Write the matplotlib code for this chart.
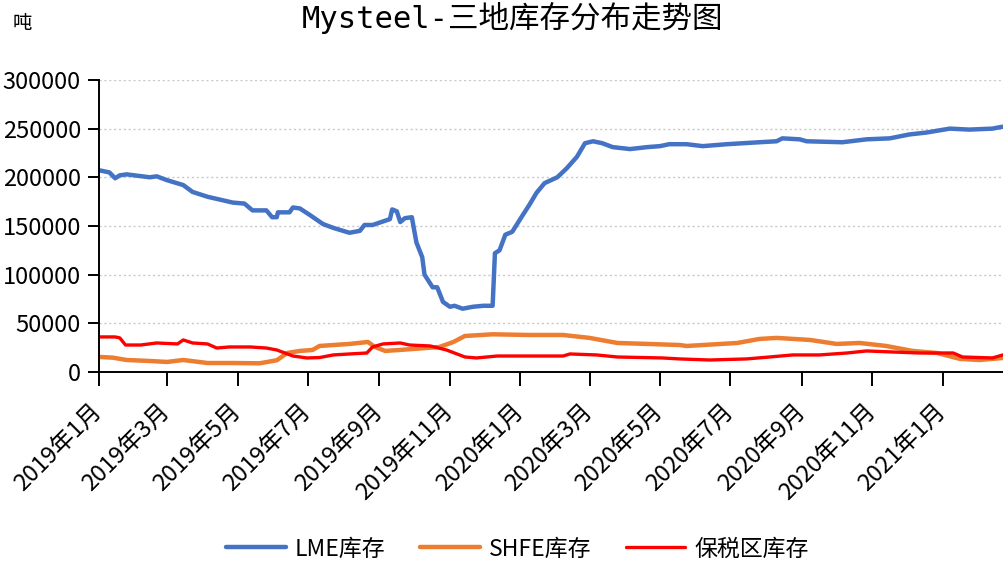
# 三地库存分布走势图 recreation
import pandas as pd
import matplotlib
matplotlib.use('Agg')
import matplotlib.pyplot as plt
import matplotlib.dates as mdates
from matplotlib.ticker import MultipleLocator, FuncFormatter

plt.rcParams['font.family'] = ['Noto Sans CJK SC', 'DejaVu Sans']

# LME inventory (tonnes)
lme_dates = ['2019-01-02', '2019-01-10', '2019-01-15', '2019-01-19', '2019-01-25', '2019-02-14',
             '2019-02-20', '2019-03-01', '2019-03-15', '2019-03-23', '2019-04-05', '2019-04-27',
             '2019-05-07', '2019-05-14', '2019-05-26', '2019-05-31', '2019-06-04', '2019-06-05',
             '2019-06-15', '2019-06-18', '2019-06-24', '2019-07-03', '2019-07-14', '2019-07-23',
             '2019-08-06', '2019-08-15', '2019-08-19', '2019-08-26', '2019-09-10', '2019-09-12',
             '2019-09-16', '2019-09-19', '2019-09-23', '2019-09-29', '2019-10-03', '2019-10-08',
             '2019-10-10', '2019-10-17', '2019-10-21', '2019-10-26', '2019-11-01', '2019-11-05',
             '2019-11-12', '2019-11-21', '2019-11-30', '2019-12-08', '2019-12-10', '2019-12-14',
             '2019-12-19', '2019-12-25', '2020-01-03', '2020-01-09', '2020-01-15', '2020-01-22',
             '2020-02-02', '2020-02-10', '2020-02-19', '2020-02-26', '2020-03-04', '2020-03-12',
             '2020-03-21', '2020-04-05', '2020-04-20', '2020-05-01', '2020-05-09', '2020-05-24',
             '2020-06-07', '2020-06-28', '2020-07-26', '2020-08-10', '2020-08-15', '2020-08-30',
             '2020-09-05', '2020-10-06', '2020-10-27', '2020-11-16', '2020-12-03', '2020-12-18',
             '2021-01-07', '2021-01-24', '2021-02-13', '2021-02-22']
lme_vals = [207000, 205000, 199000, 202000, 203000, 200000,
            201000, 197000, 192000, 185000, 180000, 174000,
            173000, 166000, 166000, 159000, 159000, 164000,
            164000, 169000, 168000, 161000, 152000, 148000,
            143000, 145000, 151000, 151000, 157000, 167000,
            165000, 154000, 158000, 159000, 133000, 118000,
            100000, 87000, 87000, 72000, 67000, 68000,
            65000, 67000, 68000, 68000, 122000, 125000,
            141000, 144000, 161000, 172000, 184000, 194000,
            200000, 209000, 221000, 235000, 237000, 235000,
            231000, 229000, 231000, 232000, 234000, 234000,
            232000, 234000, 236000, 237000, 240000, 239000,
            237000, 236000, 239000, 240000, 244000, 246000,
            250000, 249000, 250000, 252000]

# SHFE inventory
shfe_dates = ['2019-01-02', '2019-01-13', '2019-01-25', '2019-02-14', '2019-03-01', '2019-03-15',
              '2019-04-05', '2019-04-27', '2019-05-20', '2019-06-04', '2019-06-13', '2019-06-24',
              '2019-07-05', '2019-07-11', '2019-07-23', '2019-08-06', '2019-08-22', '2019-08-28',
              '2019-09-06', '2019-09-30', '2019-10-23', '2019-11-04', '2019-11-14', '2019-12-08',
              '2020-01-09', '2020-02-07', '2020-03-01', '2020-03-25', '2020-04-20', '2020-05-18',
              '2020-05-24', '2020-07-07', '2020-07-26', '2020-08-10', '2020-09-08', '2020-10-01',
              '2020-10-21', '2020-11-13', '2020-12-06', '2020-12-27', '2021-01-16', '2021-02-02',
              '2021-02-22']
shfe_vals = [15400, 14700, 12300, 11300, 10300, 12300,
             9200, 9200, 8900, 12000, 19500, 21600,
             22600, 26700, 27700, 28800, 30800, 25700,
             21600, 23600, 25700, 30800, 37000, 38700,
             38000, 38000, 35000, 29800, 28800, 27700,
             26700, 29800, 33900, 35000, 32900, 28800,
             29800, 26700, 21600, 19500, 13400, 12300,
             14400]

# bonded zone inventory
bonded_dates = ['2019-01-02', '2019-01-15', '2019-01-19', '2019-01-24', '2019-02-06', '2019-02-20',
                '2019-03-10', '2019-03-15', '2019-03-23', '2019-04-05', '2019-04-13', '2019-04-24',
                '2019-05-12', '2019-05-26', '2019-06-04', '2019-06-18', '2019-06-30', '2019-07-11',
                '2019-07-23', '2019-08-06', '2019-08-21', '2019-08-26', '2019-09-04', '2019-09-19',
                '2019-09-27', '2019-10-15', '2019-10-29', '2019-11-14', '2019-11-24', '2019-12-12',
                '2019-12-29', '2020-02-07', '2020-02-13', '2020-03-07', '2020-03-25', '2020-05-03',
                '2020-05-18', '2020-06-13', '2020-07-15', '2020-08-04', '2020-08-24', '2020-09-16',
                '2020-10-10', '2020-10-27', '2020-11-19', '2020-12-12', '2021-01-10', '2021-01-18',
                '2021-02-13', '2021-02-22']
bonded_vals = [36000, 36000, 35000, 27700, 27700, 29800,
               28800, 32900, 29800, 28800, 24600, 25700,
               25700, 24600, 22600, 16400, 14400, 14800,
               17500, 18500, 19500, 25700, 28800, 29800,
               27700, 26700, 22600, 15400, 14400, 16400,
               16400, 16400, 18500, 17500, 15400, 14400,
               13400, 12300, 13400, 15400, 17500, 17500,
               19500, 21600, 20500, 19500, 19500, 15400,
               14400, 17500]

series_names = ['LME库存', 'SHFE库存', '保税区库存']

fig = plt.figure(figsize=(10.04, 5.63), dpi=100)
ax = fig.add_axes([0.0986, 0.3393, 0.9014, 0.5187])

ax.plot(pd.to_datetime(lme_dates), lme_vals, color='#4472C4', linewidth=3.2,
        solid_capstyle='round', label=series_names[0])
ax.plot(pd.to_datetime(shfe_dates), shfe_vals, color='#ED7D31', linewidth=3.2,
        solid_capstyle='round', label=series_names[1])
ax.plot(pd.to_datetime(bonded_dates), bonded_vals, color='#FF0000', linewidth=2.4,
        solid_capstyle='round', label=series_names[2])

ax.set_ylim(0, 300000)
ax.set_xlim(pd.Timestamp('2019-01-01'), pd.Timestamp('2021-02-23'))
ax.yaxis.set_major_locator(MultipleLocator(50000))
ax.xaxis.set_major_locator(mdates.MonthLocator(bymonth=[1, 3, 5, 7, 9, 11]))
ax.xaxis.set_major_formatter(FuncFormatter(
    lambda v, p: '%d年%d月' % (mdates.num2date(v).year, mdates.num2date(v).month)))

ax.grid(axis='y', color='#c8c8c8', linestyle=(0, (1.5, 2)), linewidth=1)
ax.set_axisbelow(True)
for s in ['top', 'right']:
    ax.spines[s].set_visible(False)
for s in ['left', 'bottom']:
    ax.spines[s].set_linewidth(1.4)
ax.tick_params(axis='y', direction='out', length=8, width=1.4, labelsize=17, pad=5)
ax.tick_params(axis='x', direction='out', length=10, width=1.4, labelsize=17, pad=16)
for lab in ax.get_xticklabels():
    lab.set_rotation(45)
    lab.set_ha('right')
    lab.set_va('center')
    lab.set_rotation_mode('anchor')

fig.text(0.510, 1 - 2 / 563, 'Mysteel-三地库存分布走势图', ha='center', va='top',
         fontsize=22, family=['DejaVu Sans Mono', 'Noto Sans CJK SC'])
fig.text(0.022, 1 - 24 / 563, '吨', ha='center', va='center', fontsize=14)

fig.legend(loc='center', bbox_to_anchor=(0.5154, 1 - 549 / 563), ncol=3, frameon=False,
           fontsize=16.5, handlelength=2.6, handletextpad=0.4, columnspacing=1.5)

fig.savefig('out.png', dpi=100)
